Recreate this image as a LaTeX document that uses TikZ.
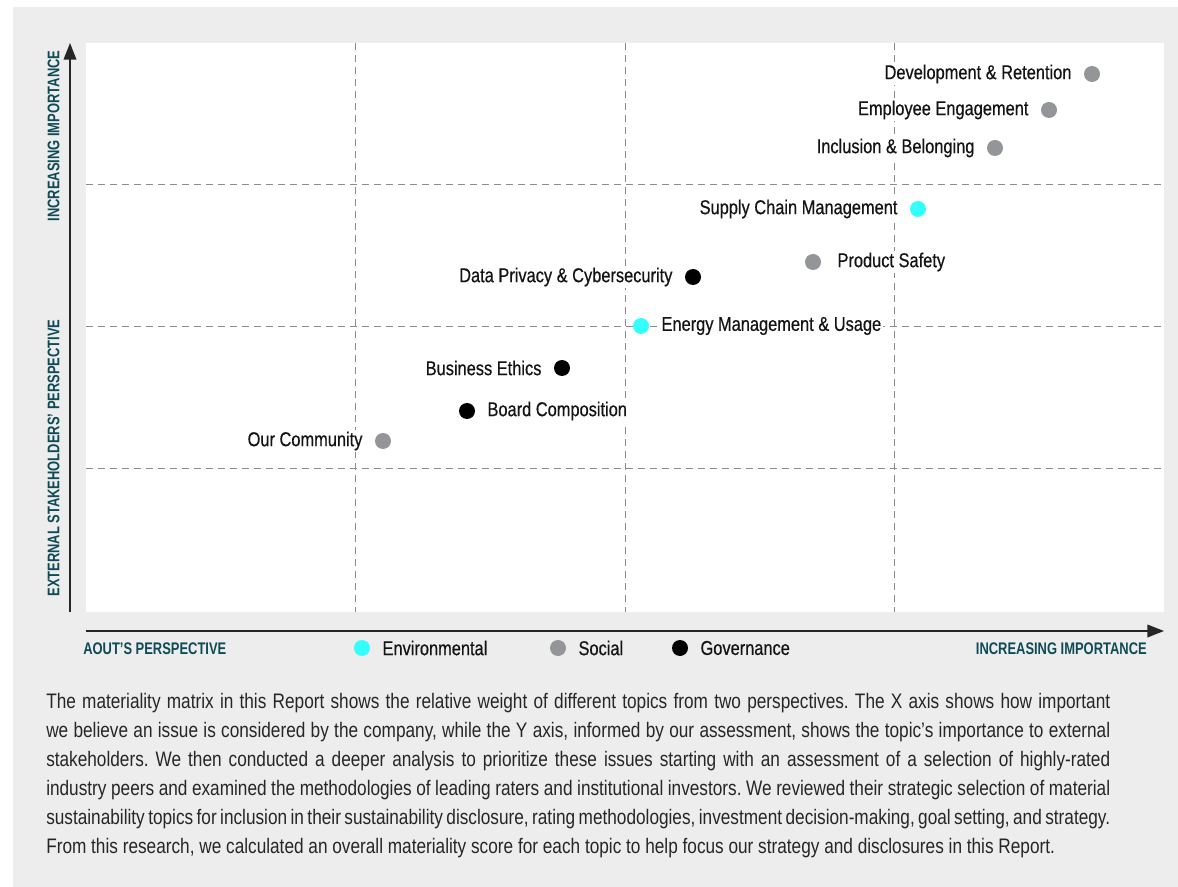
\documentclass[tikz,border=0pt]{standalone}
\usepackage{fontspec}
\setmainfont{Liberation Sans}[FakeStretch=0.82]
\newfontfamily\topicfont{Liberation Sans}[FakeStretch=0.82,FakeBold=0.5]
\newfontfamily\axisfont{Liberation Sans}[FakeStretch=0.77]
\usepackage{tikz}
\usetikzlibrary{positioning,arrows.meta}
\definecolor{envcyan}{HTML}{33FFFF}
\definecolor{socgray}{HTML}{939598}
\definecolor{govblack}{HTML}{000000}
\definecolor{axisteal}{HTML}{0E4B56}
\definecolor{panelgray}{HTML}{EDEDED}
\definecolor{dashgray}{HTML}{8C8C8C}
\tikzset{dot/.style={circle,inner sep=0pt,minimum size=12pt,draw=none},
         env/.style={dot,fill=envcyan},
         soc/.style={dot,fill=socgray},
         gov/.style={dot,fill=govblack},
         topic/.style={fill=white,inner sep=1pt,text=black!92,font=\topicfont\fontsize{15}{18}\selectfont},
         legendtxt/.style={inner sep=1pt,text=black!92,font=\topicfont\fontsize{15}{18}\selectfont},
         axislbl/.style={inner sep=0pt,text=axisteal,font=\axisfont\fontsize{12.6}{14}\selectfont\bfseries},
         quadline/.style={dashgray,line width=0.75pt,dash pattern=on 5.5pt off 3.5pt},
         axisline/.style={-{Triangle[length=12.5pt,width=9.5pt]},line width=1.2pt,black!85}
}

\begin{document}
\begin{tikzpicture}[x=0.75pt,y=-0.75pt,node distance=8pt]
    \useasboundingbox (0,0) rectangle (1178,887);
    \fill[panelgray] (13,7) rectangle (1178,887);
    \fill[white] (86,43) rectangle (1164,612);
    % quadrants, 4 x 4
    \foreach \x in {355.5,625,894.5}
        \draw[quadline] (\x,43) -- (\x,612);
    \foreach \y in {185,327,469}
        \draw[quadline] (86,\y) -- (1164,\y);
    % axes
    \coordinate (ytip) at (70,43);
    \coordinate (yfoot) at (70,612);
    \coordinate (xfoot) at (86,631);
    \coordinate (xtip) at (1164,631);
    \draw[axisline] (yfoot) -- (ytip);
    \draw[axisline] (xfoot) -- (xtip);
    \node[axislbl, rotate=90] (yimp) at (53.5,136) {INCREASING IMPORTANCE};
    \node[axislbl, rotate=90] (ypersp) at (53.5,458) {EXTERNAL STAKEHOLDERS’ PERSPECTIVE};
    \node[axislbl, anchor=west] (xpersp) at (83,649) {AOUT’S PERSPECTIVE};
    \node[axislbl, anchor=east] (ximp) at (1147,649) {INCREASING IMPORTANCE};
    % topics
    %                                   DR
    %                                 EE
    %                              IB
    %                         SC
    %          DP          PS
    %             EM
    %      BE
    %    BC
    %  OC
    \node[soc] (devret) at (1092,74) {};
    \node[topic, left=of devret] (devret-l) {Development \& Retention};
    \node[soc] (engage) at (1049,110) {};
    \node[topic, left=of engage] (engage-l) {Employee Engagement};
    \node[soc] (inclus) at (995,148) {};
    \node[topic, left=of inclus] (inclus-l) {Inclusion \& Belonging};
    \node[env] (supply) at (918,209) {};
    \node[topic, left=of supply] (supply-l) {Supply Chain Management};
    \node[soc] (safety) at (813,262) {};
    \node[topic, right=11pt of safety] (safety-l) {Product Safety};
    \node[gov] (privacy) at (693,277) {};
    \node[topic, left=of privacy] (privacy-l) {Data Privacy \& Cybersecurity};
    \node[env] (energy) at (641,326) {};
    \node[topic, right=of energy] (energy-l) {Energy Management \& Usage};
    \node[gov] (ethics) at (562,368) {};
    \node[topic, left=of ethics] (ethics-l) {Business Ethics};
    \node[gov] (board) at (467,411) {};
    \node[topic, right=of board] (board-l) {Board Composition};
    \node[soc] (community) at (383,441) {};
    \node[topic, left=of community] (community-l) {Our Community};
    % legend
    \node[env] (lg-env) at (362,648) {};
    \node[legendtxt, right=of lg-env] (lg-env-l) {Environmental};
    \node[soc] (lg-soc) at (558,648) {};
    \node[legendtxt, right=of lg-soc] (lg-soc-l) {Social};
    \node[gov] (lg-gov) at (680,648) {};
    \node[legendtxt, right=of lg-gov] (lg-gov-l) {Governance};
    % note
    \node[anchor=north west, inner sep=0pt, text width=798pt, align=justify, text=black!85,
          font=\fontsize{15.75}{21.75}\selectfont\frenchspacing] (note) at (46,693)
    {The materiality matrix in this Report shows the relative weight of different topics from two perspectives. The X axis shows how important\linebreak
     we believe an issue is considered by the company, while the Y axis, informed by our assessment, shows the topic’s importance to external\linebreak
     stakeholders. We then conducted a deeper analysis to prioritize these issues starting with an assessment of a selection of highly-rated\linebreak
     industry peers and examined the methodologies of leading raters and institutional investors. We reviewed their strategic selection of material\linebreak
     sustainability topics for inclusion in their sustainability disclosure, rating methodologies, investment decision-making, goal setting, and strategy.\linebreak
     From this research, we calculated an overall materiality score for each topic to help focus our strategy and disclosures in this Report.};
\end{tikzpicture}
\end{document}
